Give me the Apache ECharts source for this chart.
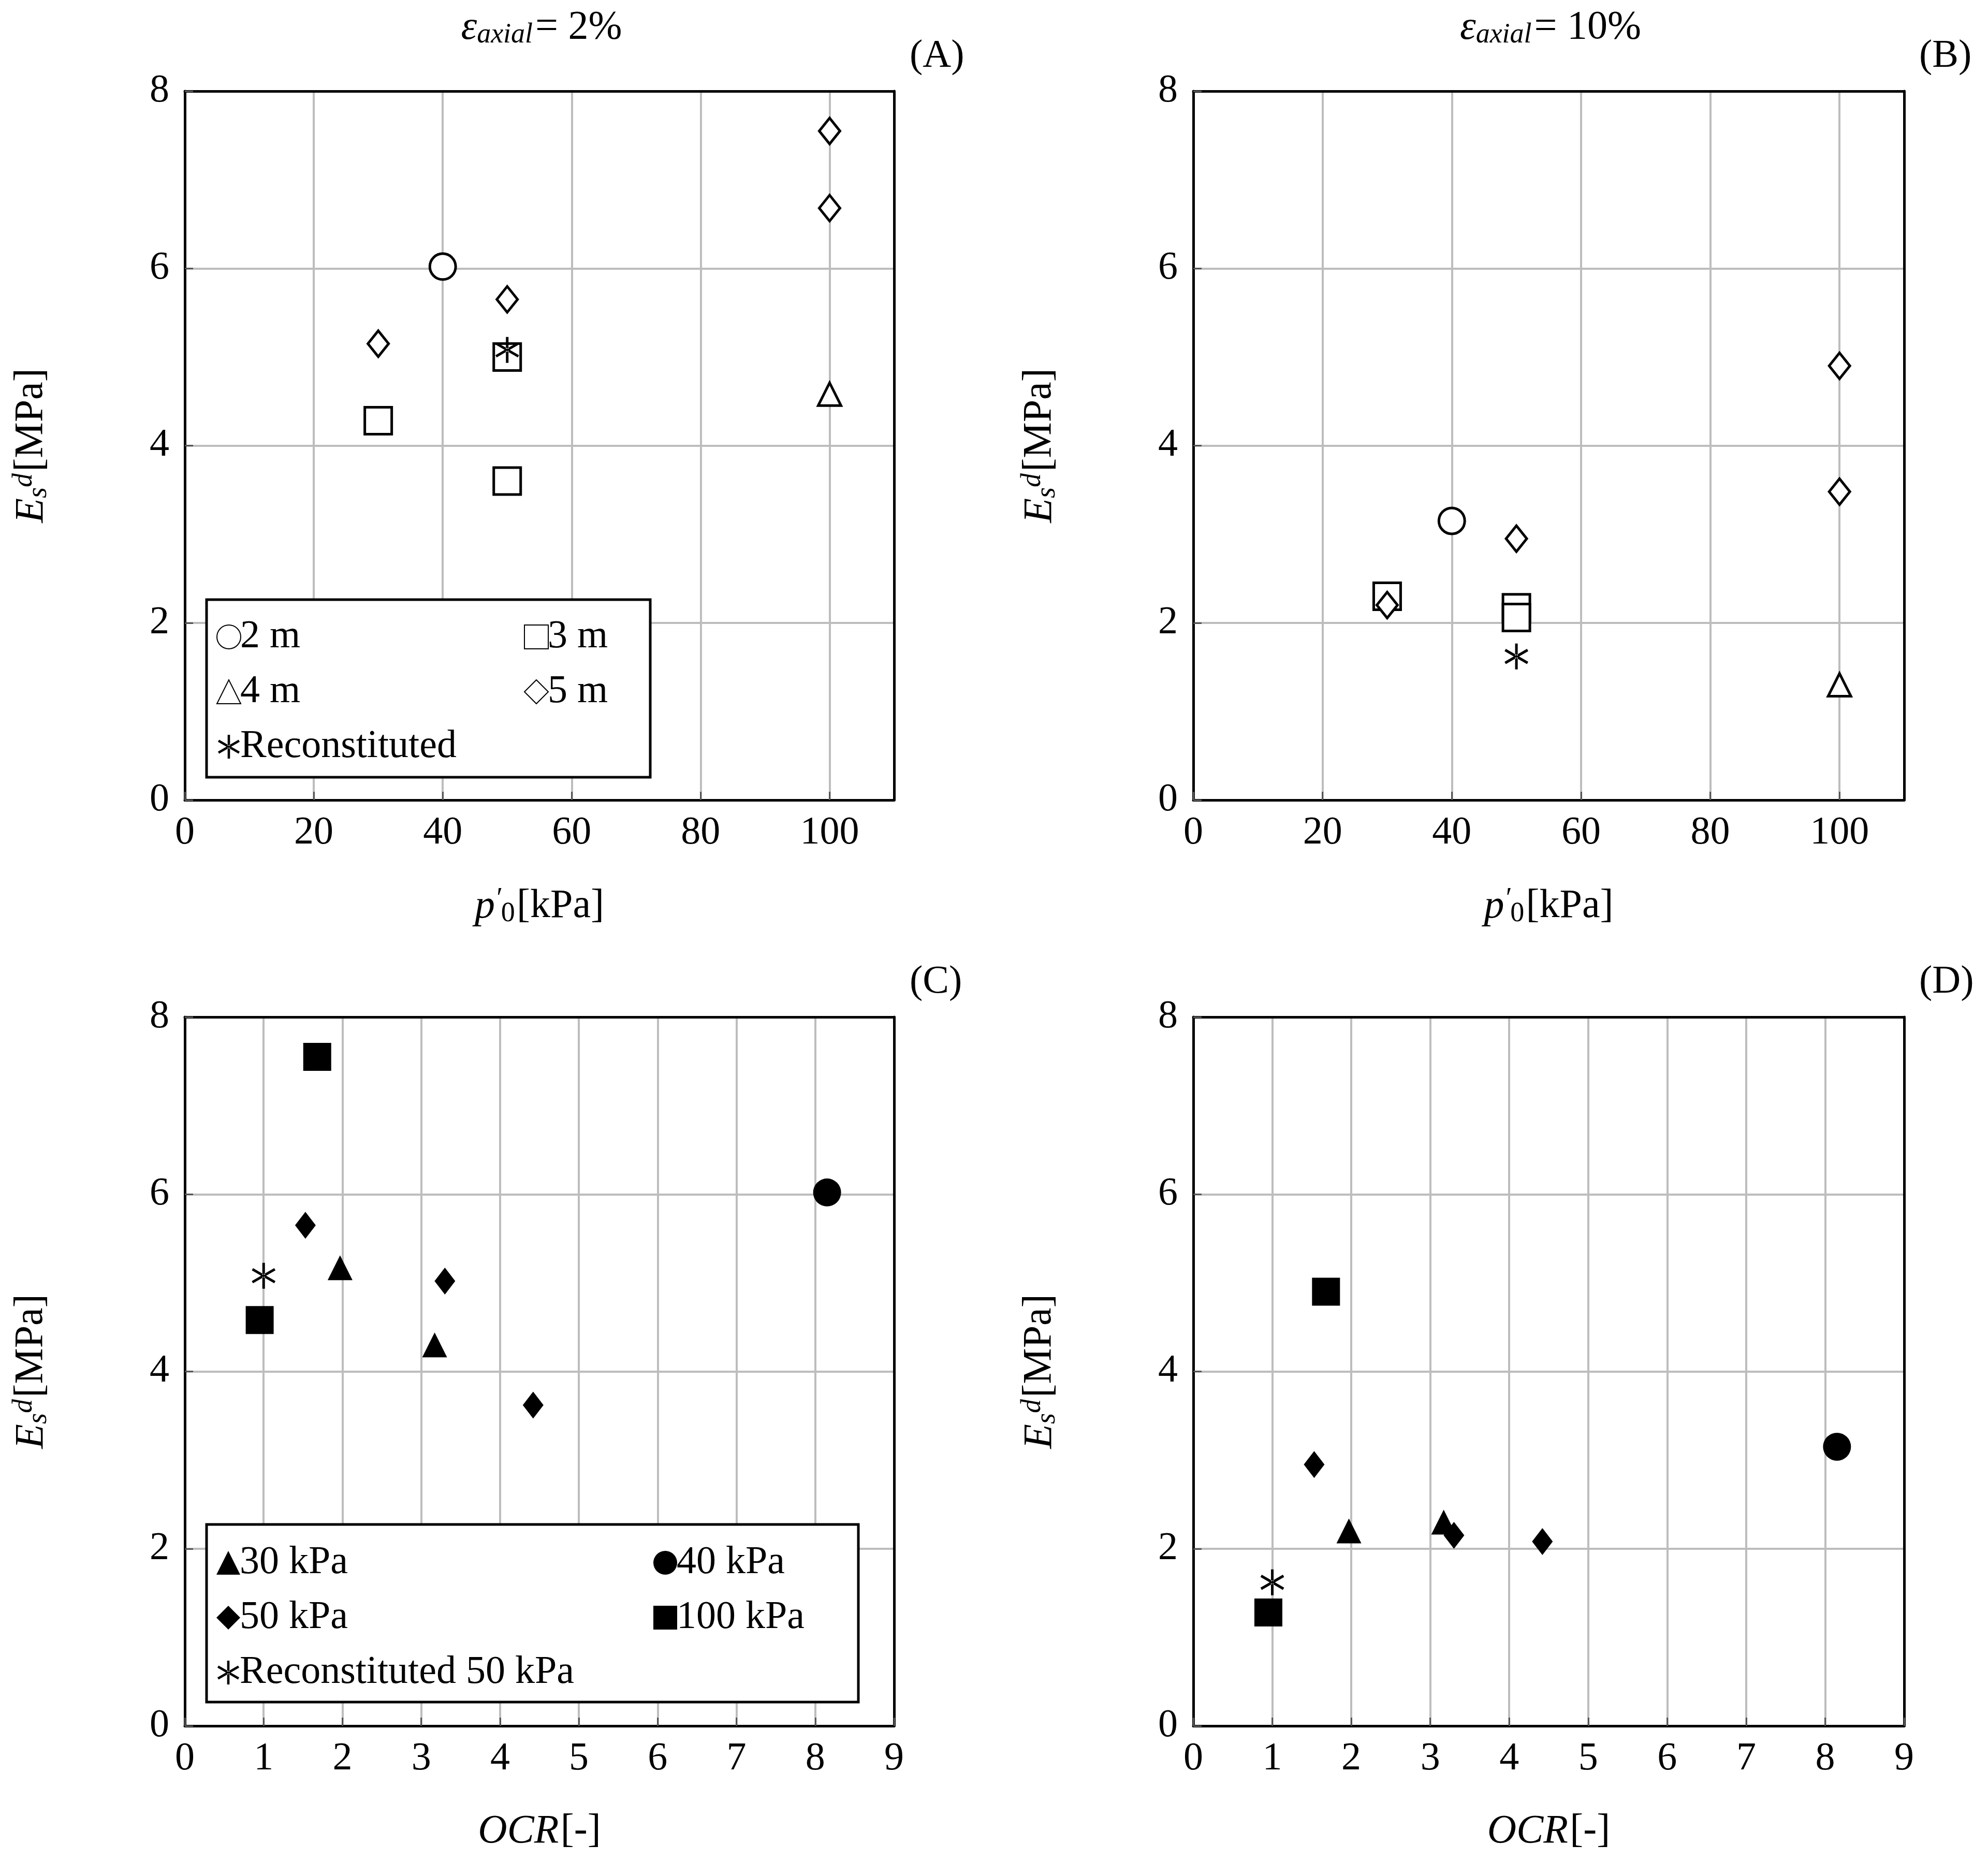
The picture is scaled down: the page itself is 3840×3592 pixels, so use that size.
<!DOCTYPE html>
<html>
<head>
<meta charset="utf-8">
<script src="https://cdn.jsdelivr.net/npm/echarts@6/dist/echarts.min.js"></script>
<style>html,body{margin:0;padding:0;background:#fff}#c{width:3840px;height:3592px}</style>
</head>
<body>
<div id="c"></div>
<script>
// panel A / B : Es vs p0'
var a2m = [[40, 6.02]];
var a3m = [[30, 4.28], [50, 5.0], [50, 3.6]];
var a4m = [[100, 4.58]];
var a5m = [[30, 5.15], [50, 5.65], [100, 7.55], [100, 6.68]];
var aRec = [[50, 5.08]];

var b2m = [[40, 3.15]];
var b3m = [[30, 2.3], [50, 2.17], [50, 2.06]];
var b4m = [[100, 1.3]];
var b5m = [[30, 2.2], [50, 2.95], [100, 4.9], [100, 3.48]];
var bRec = [[50, 1.62]];

// panel C / D : Es vs OCR
var c30 = [[1.97, 5.17], [3.17, 4.3]];
var c40 = [[8.15, 6.02]];
var c50 = [[1.53, 5.65], [3.3, 5.02], [4.42, 3.62]];
var c100 = [[0.95, 4.58], [1.68, 7.55]];
var cRec = [[1.0, 5.08]];

var d30 = [[1.97, 2.2], [3.17, 2.3]];
var d40 = [[8.15, 3.15]];
var d50 = [[1.53, 2.95], [3.3, 2.15], [4.42, 2.08]];
var d100 = [[0.95, 1.28], [1.68, 4.9]];
var dRec = [[1.0, 1.62]];

var yTicks = [0, 2, 4, 6, 8];

var FONT = 'Liberation Serif';
var star = 'path://M-1,-10L1,-10L1,10L-1,10Z M8.16,5.87L9.16,4.13L-8.16,-5.87L-9.16,-4.13Z M-9.16,4.13L-8.16,5.87L9.16,-4.13L8.16,-5.87Z';

var chart = echarts.init(document.getElementById('c'));

var grids = [
  {left: 357, top: 176, width: 1370, height: 1369},
  {left: 2305, top: 176, width: 1373, height: 1369},
  {left: 357, top: 1964, width: 1370, height: 1369},
  {left: 2305, top: 1964, width: 1373, height: 1369}
];
grids.forEach(function (g) { g.show = false; });

var rich = {
  it: {fontFamily: FONT, fontStyle: 'italic', fontWeight: 'normal', fontSize: 78, color: '#000'},
  n: {fontFamily: FONT, fontWeight: 'normal', fontSize: 78, color: '#000'},
  sub: {fontFamily: FONT, fontStyle: 'italic', fontWeight: 'normal', fontSize: 54, color: '#000', padding: [28, 0, 0, 0]},
  sup: {fontFamily: FONT, fontStyle: 'italic', fontWeight: 'normal', fontSize: 54, color: '#000', padding: [0, 0, 28, 0]},
  sub0: {fontFamily: FONT, fontWeight: 'normal', fontSize: 54, color: '#000', padding: [28, 0, 0, 0]}
};

var frame = {show: true, onZero: false, lineStyle: {color: '#000', width: 5}};

function xAxis(i, max, interval, ocr) {
  return {
    gridIndex: i, type: 'value', min: 0, max: max, interval: interval,
    name: ocr ? '{it|OCR} {n|[-]}' : '{it|p}{sup|′}{sub0|0} {n|[kPa]}',
    nameLocation: 'middle', nameGap: 165,
    nameTextStyle: {rich: rich},
    axisLine: frame,
    axisTick: {show: true, inside: true, length: 16, lineStyle: {color: '#555', width: 3}},
    axisLabel: {fontFamily: FONT, fontSize: 76, color: '#000', margin: 26, showMaxLabel: ocr ? true : false},
    splitLine: {show: true, lineStyle: {color: '#bdbdbd', width: 4}}
  };
}
function xTop(i, max) {
  return {gridIndex: i, type: 'value', position: 'top', min: 0, max: max,
    axisLine: frame, axisTick: {show: false}, axisLabel: {show: false}, splitLine: {show: false}};
}
function yAxis(i) {
  return {
    gridIndex: i, type: 'value', min: yTicks[0], max: yTicks[yTicks.length - 1], interval: 2,
    name: '{it|E}{sub|s}{sup|d} {n|[MPa]}',
    nameLocation: 'middle', nameGap: 255, nameRotate: 90,
    nameTextStyle: {rich: rich},
    axisLine: frame,
    axisTick: {show: true, inside: true, length: 16, lineStyle: {color: '#555', width: 3}},
    axisLabel: {fontFamily: FONT, fontSize: 76, color: '#000', margin: 30},
    splitLine: {show: true, lineStyle: {color: '#bdbdbd', width: 4}}
  };
}
function yRight(i) {
  return {gridIndex: i, type: 'value', position: 'right', min: 0, max: 8,
    axisLine: frame, axisTick: {show: false}, axisLabel: {show: false}, splitLine: {show: false}};
}

function sc(name, data, i, symbol, size, filled) {
  return {
    name: name, type: 'scatter', xAxisIndex: i, yAxisIndex: i, data: data,
    symbol: symbol, symbolSize: size, symbolKeepAspect: true,
    itemStyle: filled ? {color: '#000', borderColor: '#000', borderWidth: 0, opacity: 1}
                      : {color: symbol === star ? '#000' : '#fff', borderColor: '#000', borderWidth: symbol === star ? 0 : 5, opacity: 1},
    z: 3
  };
}

var series = [
  sc('2 m', a2m, 0, 'circle', 50, false),
  sc('3 m', a3m, 0, 'rect', 52, false),
  sc('4 m', a4m, 0, 'triangle', 44, false),
  sc('5 m', a5m, 0, 'diamond', [40, 50], false),
  sc('Reconstituted', aRec, 0, star, 50, false),
  sc('2 m', b2m, 1, 'circle', 50, false),
  sc('3 m', b3m, 1, 'rect', 52, false),
  sc('4 m', b4m, 1, 'triangle', 44, false),
  sc('5 m', b5m, 1, 'diamond', [40, 50], false),
  sc('Reconstituted', bRec, 1, star, 50, false),
  sc('30 kPa', c30, 2, 'triangle', 48, true),
  sc('40 kPa', c40, 2, 'circle', 54, true),
  sc('50 kPa', c50, 2, 'diamond', [40, 52], true),
  sc('100 kPa', c100, 2, 'rect', 54, true),
  sc('Reconstituted 50 kPa', cRec, 2, star, 50, false),
  sc('30 kPa', d30, 3, 'triangle', 48, true),
  sc('40 kPa', d40, 3, 'circle', 54, true),
  sc('50 kPa', d50, 3, 'diamond', [40, 52], true),
  sc('100 kPa', d100, 3, 'rect', 54, true),
  sc('Reconstituted 50 kPa', dRec, 3, star, 50, false)
];

function legend(names, left, top) {
  return {
    data: names, orient: 'vertical', left: left, top: top, itemGap: 30,
    itemWidth: 46, itemHeight: 46, selectedMode: false, padding: 0,
    textStyle: {fontFamily: FONT, fontSize: 76, color: '#000', padding: [0, 0, 0, -6]}
  };
}

var titleStyle = {fontFamily: FONT, fontSize: 76, color: '#000', fontWeight: 'normal'};
var titles = [
  {text: '{it|ε}{sub|axial} {n|= 2%}', left: 1041, top: 8, textAlign: 'center', textStyle: {rich: rich}},
  {text: '{it|ε}{sub|axial} {n|= 10%}', left: 2990, top: 8, textAlign: 'center', textStyle: {rich: rich}},
  {text: '(A)', left: 1752, top: 66, textStyle: titleStyle},
  {text: '(B)', left: 3702, top: 66, textStyle: titleStyle},
  {text: '(C)', left: 1752, top: 1854, textStyle: titleStyle},
  {text: '(D)', left: 3702, top: 1854, textStyle: titleStyle}
];

chart.setOption({
  backgroundColor: '#fff',
  animation: false,
  title: titles,
  grid: grids,
  xAxis: [xAxis(0, 110, 20, false), xAxis(1, 110, 20, false), xAxis(2, 9, 1, true), xAxis(3, 9, 1, true),
          xTop(0, 110), xTop(1, 110), xTop(2, 9), xTop(3, 9)],
  yAxis: [yAxis(0), yAxis(1), yAxis(2), yAxis(3), yRight(0), yRight(1), yRight(2), yRight(3)],
  legend: [
    legend(['2 m', '4 m', 'Reconstituted'], 418, 1192),
    legend(['3 m', '5 m'], 1012, 1192),
    legend(['30 kPa', '50 kPa', 'Reconstituted 50 kPa'], 418, 2980),
    legend(['40 kPa', '100 kPa'], 1262, 2980)
  ],
  graphic: [
    {type: 'rect', shape: {x: 399, y: 1158, width: 857, height: 343}, style: {fill: '#fff', stroke: '#000', lineWidth: 5}, z: 4},
    {type: 'rect', shape: {x: 399, y: 2944, width: 1259, height: 343}, style: {fill: '#fff', stroke: '#000', lineWidth: 5}, z: 4}
  ],
  series: series
});
</script>
</body>
</html>
